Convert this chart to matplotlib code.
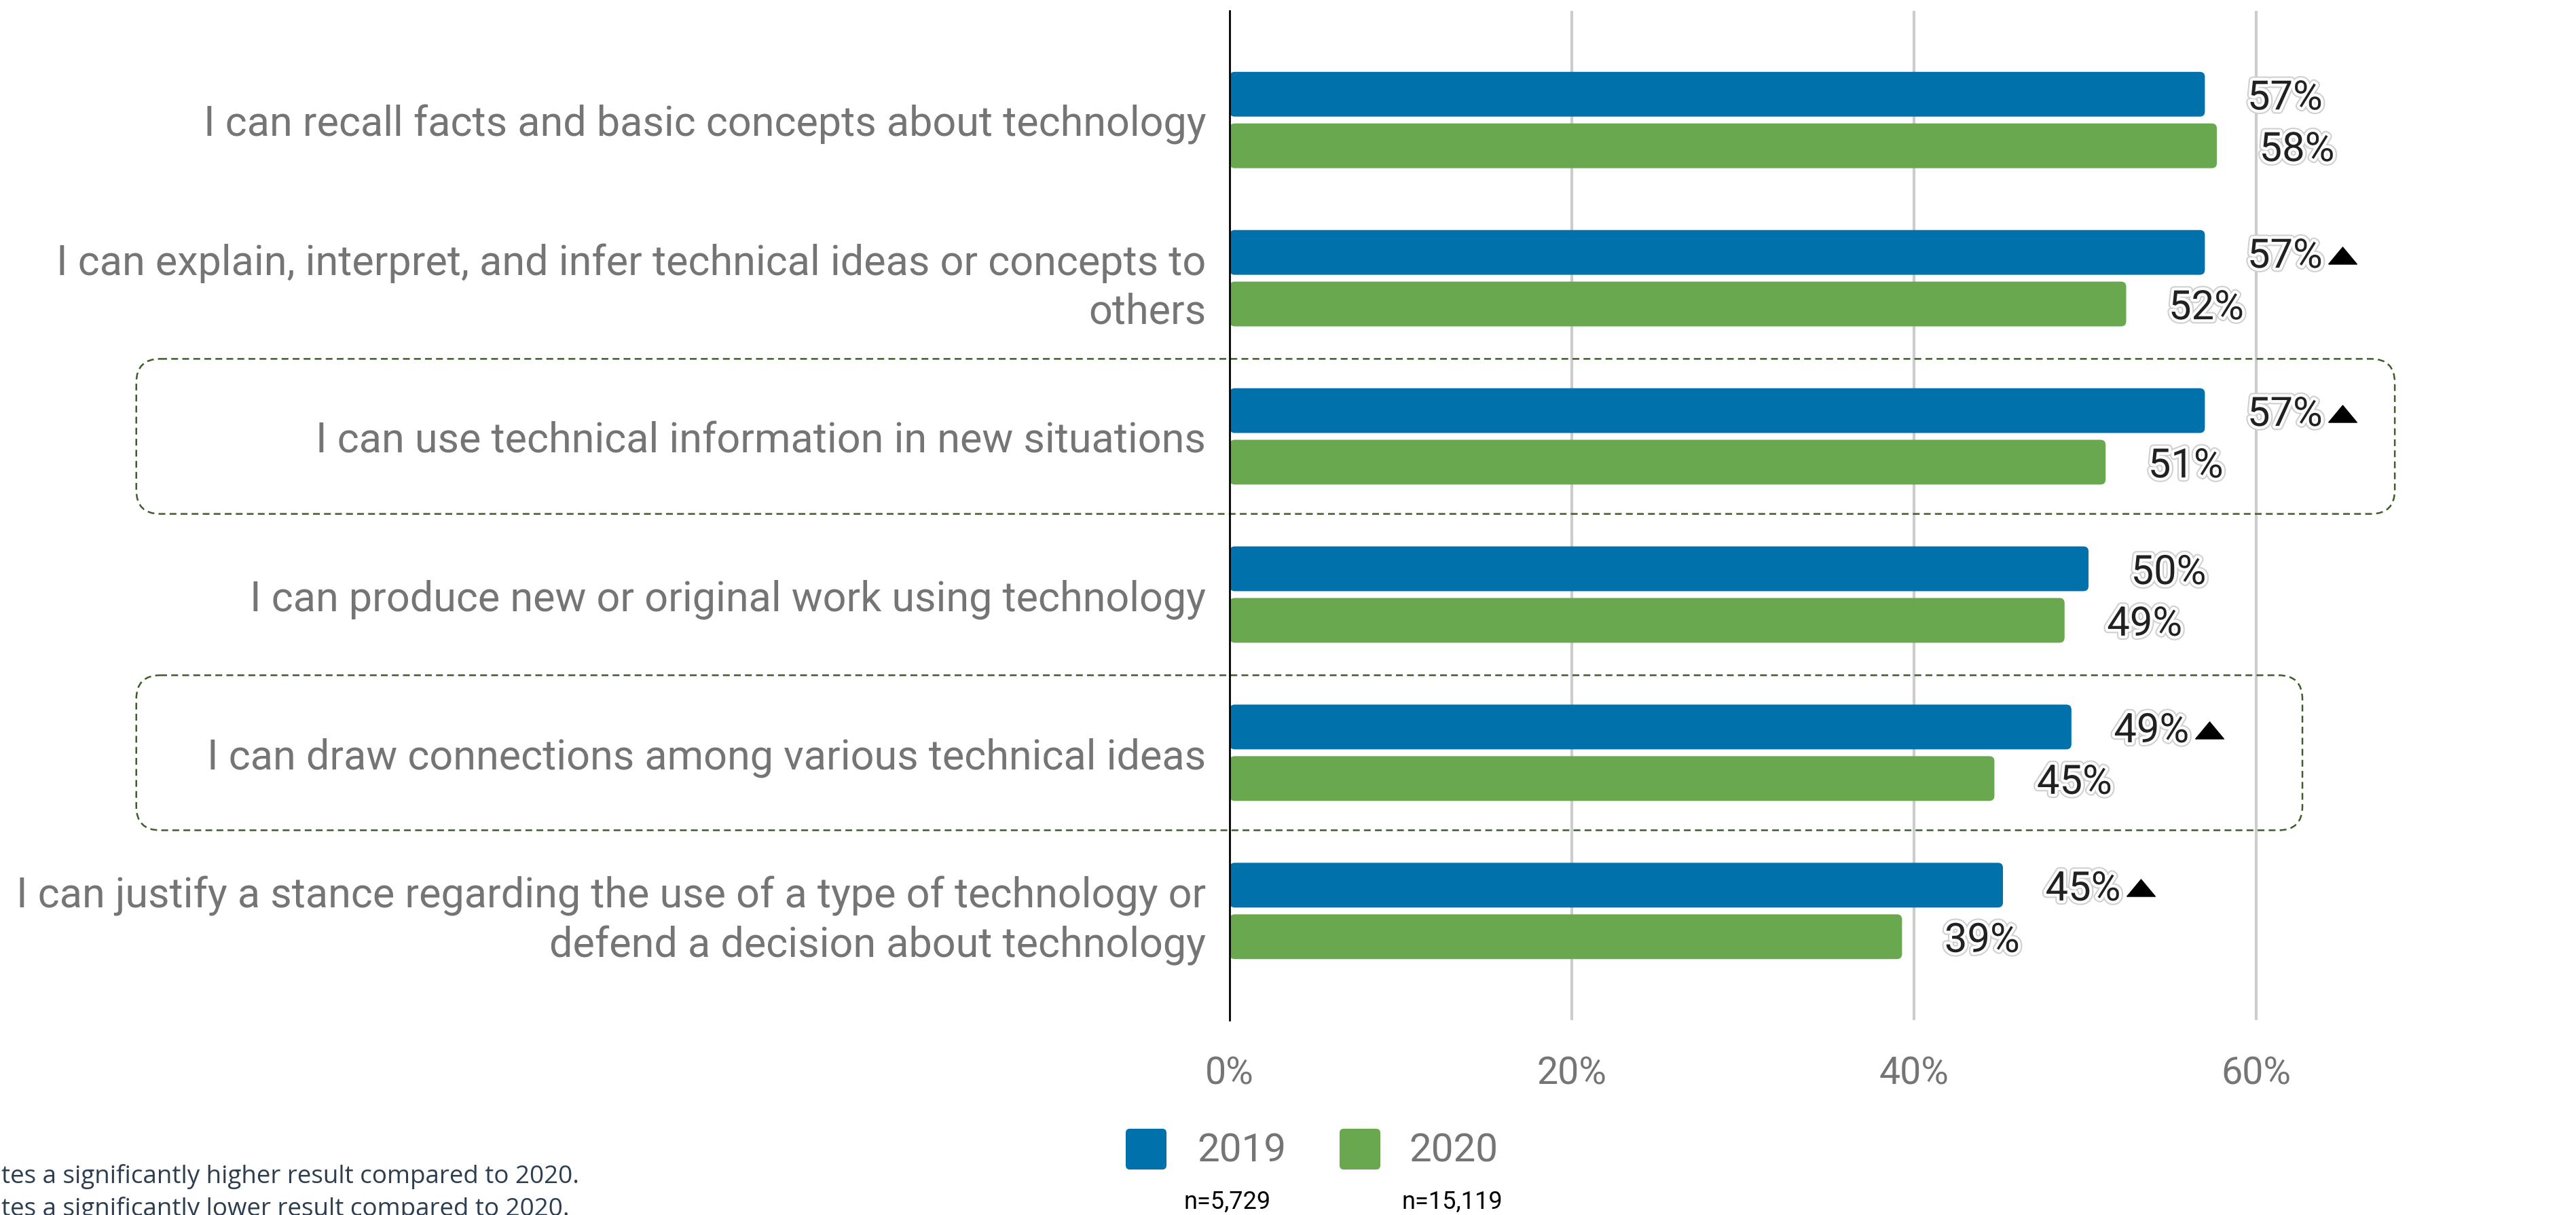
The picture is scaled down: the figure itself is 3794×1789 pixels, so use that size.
import numpy as np
import matplotlib
matplotlib.use("Agg")
import matplotlib.pyplot as plt
import matplotlib.patheffects as pe
from matplotlib.patches import FancyBboxPatch
from matplotlib.transforms import offset_copy

# data
categories = [
    "I can recall facts and basic concepts about technology",
    "I can explain, interpret, and infer technical ideas or concepts to\nothers",
    "I can use technical information in new situations",
    "I can produce new or original work using technology",
    "I can draw connections among various technical ideas",
    "I can justify a stance regarding the use of a type of technology or\ndefend a decision about technology",
]
values_2019 = [57.0, 57.0, 57.0, 50.2, 49.2, 45.2]
values_2020 = [57.7, 52.4, 51.2, 48.8, 44.7, 39.3]
higher_2019 = [False, True, True, False, True, True]
highlight_rows = [2, 4]
highlight_right = [68.1, 62.7]
years = ["2019", "2020"]
sample_sizes = ["n=5,729", "n=15,119"]
xticks = [0, 20, 40, 60]
footnotes = [
    "tes a significantly higher result compared to 2020.",
    "tes a significantly lower result compared to 2020.",
]

BLUE = "#0071AA"
GREEN = "#6AA84F"
GREY = "#757575"

plt.rcParams["font.family"] = ["Roboto", "DejaVu Sans"]

W, H = 3794, 1790
fig = plt.figure(figsize=(W / 100, H / 100), dpi=100)
ax = fig.add_axes([1811 / W, 1 - 1503 / H, 61 * 25.2 / W, (1503 - 17) / H])

y = np.arange(len(categories))
off, bh = 0.163, 0.283
bars = list(ax.barh(y - off, values_2019, height=bh, color=BLUE)) + \
    list(ax.barh(y + off, values_2020, height=bh, color=GREEN))

# rounded bar ends
for b in bars:
    x0, y0 = b.get_xy()
    p = FancyBboxPatch((x0, y0), b.get_width(), b.get_height(),
                       boxstyle="round,pad=0,rounding_size=0.3", mutation_aspect=0.108,
                       facecolor=b.get_facecolor(), edgecolor="none", zorder=2)
    b.set_visible(False)
    ax.add_patch(p)

ax.set_xlim(0, 61)
ax.set_ylim(5.69, -0.69)
for s in ["top", "right", "bottom"]:
    ax.spines[s].set_visible(False)
ax.spines["left"].set_color("black")
ax.spines["left"].set_linewidth(2)
ax.spines["left"].set_zorder(4)
ax.xaxis.grid(True, color="#cccccc", lw=3)
ax.set_axisbelow(True)

ax.set_yticks(y)
ax.set_yticklabels(categories, fontsize=44, color=GREY, linespacing=1.3)
ax.set_xticks(xticks)
ax.set_xticklabels([f"{t}%" for t in xticks], fontsize=40, color=GREY)
ax.tick_params(axis="y", length=0, pad=25)
ax.tick_params(axis="x", length=0, pad=37)

halo = [pe.Stroke(linewidth=9, foreground="#d0d0d0"), pe.Stroke(linewidth=6, foreground="white"), pe.Normal()]
for vals, dy in [(values_2019, -off), (values_2020, off)]:
    for i, v in enumerate(vals):
        ax.annotate(f"{round(v)}%", (v, i + dy), xytext=(45, 0), textcoords="offset points",
                    ha="left", va="center_baseline", fontsize=43, color="#212121",
                    path_effects=halo, zorder=5)

tri = [(-1, -0.6), (1, -0.6), (0, 0.6), (-1, -0.6)]
tri_trans = offset_copy(ax.transData, fig=fig, x=146, y=-3, units="points")
for i, v in enumerate(values_2019):
    if higher_2019[i]:
        ax.plot([v], [i - off], marker=tri, ms=30, color="black", transform=tri_trans,
                clip_on=False, zorder=6)

# dashed highlight boxes
for r, xr in zip(highlight_rows, highlight_right):
    x0 = -63.9
    box = FancyBboxPatch((x0, r - 0.49), xr - x0, 0.98,
                         boxstyle="round,pad=0,rounding_size=1.4", mutation_aspect=0.108,
                         facecolor="none", edgecolor="#3d5e26", lw=1.8,
                         linestyle=(0, (4, 2.5)), clip_on=False, zorder=1)
    ax.add_patch(box)

# legend
for k, (lab, col, sx, tx) in enumerate(zip(years, [BLUE, GREEN], [1658, 1973], [1763, 2075])):
    sq = FancyBboxPatch((sx / W, 1 - 1723 / H), 60 / W, 60 / H,
                        boxstyle=f"round,pad=0,rounding_size={6 / W}", mutation_aspect=W / H,
                        transform=fig.transFigure, facecolor=col, edgecolor="none")
    fig.patches.append(sq)
    fig.text(tx / W, 1 - 1695 / H, lab, ha="left", va="center", fontsize=42, color=GREY)
for n, cx in zip(sample_sizes, [1808, 2139]):
    fig.text(cx / W, 1 - 1770 / H, n, ha="center", va="center", fontsize=26, color="black")

# footnotes (cut off at the left edge, as in the source)
for k, t in enumerate(footnotes):
    fig.text(2 / W, 1 - (1742 + 48 * k) / H, t, ha="left", va="baseline", fontsize=26.5,
             color="#2c3e50", family=["Open Sans", "DejaVu Sans"])

fig.savefig("out.png", dpi=100)
